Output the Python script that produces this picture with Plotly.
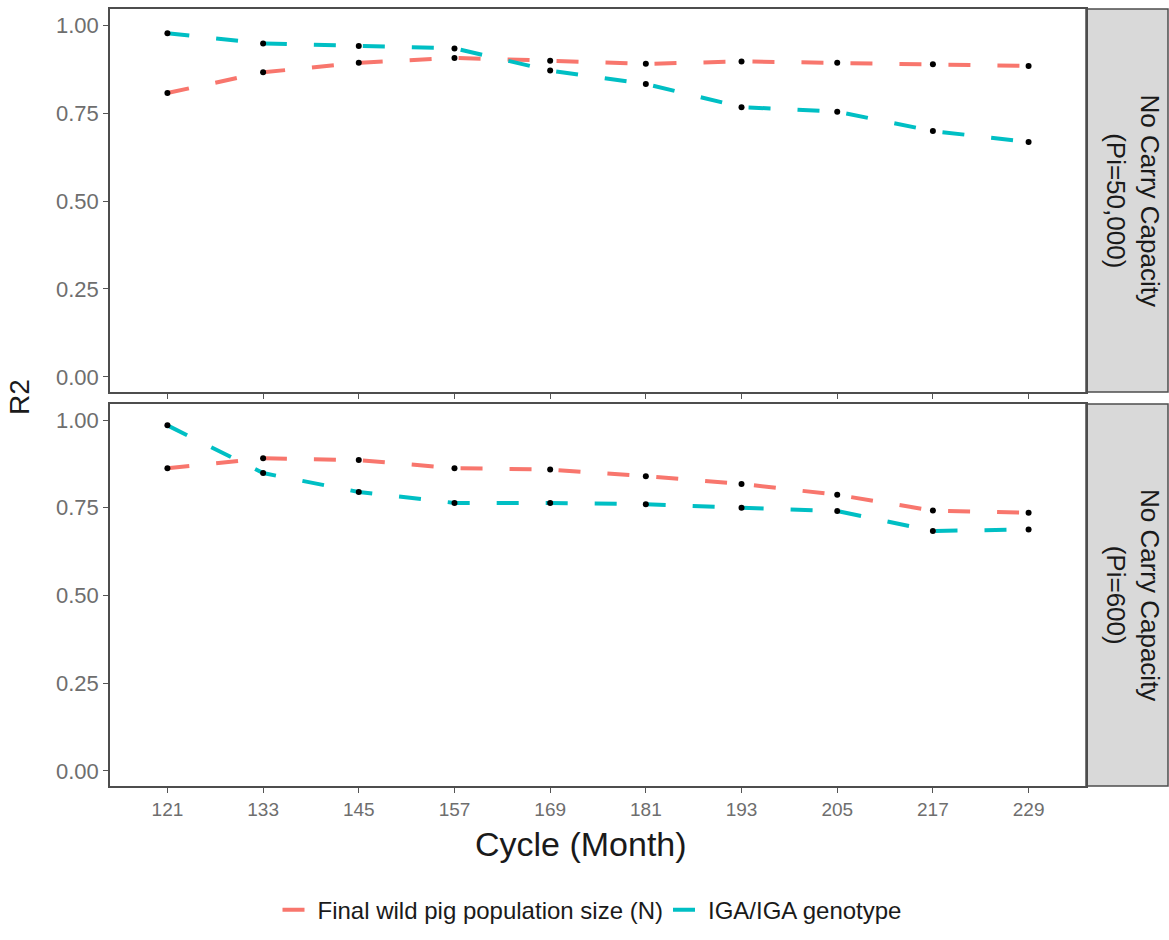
import plotly.graph_objects as go

cycles = [121, 133, 145, 157, 169, 181, 193, 205, 217, 229]
series_names = ["Final wild pig population size (N)", "IGA/IGA genotype"]
colors = ["#F8766D", "#00BFC4"]

# Panel 1: No Carry Capacity (Pi=50,000)
top_N = [0.807, 0.866, 0.893, 0.907, 0.899, 0.890, 0.897, 0.893, 0.889, 0.884]
top_IGA = [0.977, 0.948, 0.941, 0.934, 0.871, 0.833, 0.767, 0.754, 0.699, 0.668]
# Panel 2: No Carry Capacity (Pi=600)
bot_N = [0.863, 0.891, 0.886, 0.863, 0.859, 0.840, 0.818, 0.787, 0.742, 0.736]
bot_IGA = [0.985, 0.849, 0.795, 0.764, 0.764, 0.760, 0.750, 0.741, 0.684, 0.688]

strip_labels = ["No Carry Capacity<br>(Pi=50,000)", "No Carry Capacity<br>(Pi=600)"]
y_ticks = [0.0, 0.25, 0.5, 0.75, 1.0]
y_ticklabels = ["0.00", "0.25", "0.50", "0.75", "1.00"]

W, H = 1169, 940
ML, MR, MT, MB = 110, 83, 7, 150
PW = W - ML - MR
PH = H - MT - MB

def py(p):
    return (H - MB - p) / PH

fig = go.Figure()

panels = [(top_N, top_IGA, "x", "y"), (bot_N, bot_IGA, "x2", "y2")]
for i, (sN, sI, xa, ya) in enumerate(panels):
    for j, vals in enumerate([sN, sI]):
        fig.add_trace(go.Scatter(
            x=cycles, y=vals, xaxis=xa, yaxis=ya, mode="lines",
            line=dict(color=colors[j], width=4, dash="22px,27px"),
            name=series_names[j], showlegend=(i == 0), legendgroup=str(j),
            hoverinfo="skip"))
    for j, vals in enumerate([sN, sI]):
        fig.add_trace(go.Scatter(
            x=cycles, y=vals, xaxis=xa, yaxis=ya, mode="markers",
            marker=dict(color="black", size=6), showlegend=False,
            hoverinfo="skip"))

xr = [121 - 0.6 * 12, 229 + 0.6 * 12]
yr = [-0.043, 1.046]
axis_common = dict(showgrid=False, zeroline=False, showline=True, mirror=True,
                   linecolor="#4D4D4D", linewidth=1.5, ticks="outside",
                   ticklen=5, tickwidth=1.2, tickcolor="#555555")

fig.update_layout(
    width=W, height=H, margin=dict(l=ML, r=MR, t=MT, b=MB),
    paper_bgcolor="white", plot_bgcolor="white",
    font=dict(family="Liberation Sans, Arial, sans-serif", color="#4D4D4D"),
    xaxis=dict(domain=[0, 1], range=xr, anchor="y", showticklabels=False,
               tickvals=cycles, **axis_common),
    yaxis=dict(domain=[py(393), 1.0], range=yr, anchor="x",
               tickvals=y_ticks, ticktext=y_ticklabels,
               tickfont=dict(size=22, color="#6E6E6E"), **axis_common),
    xaxis2=dict(domain=[0, 1], range=xr, anchor="y2", matches="x",
                tickvals=cycles, ticktext=[str(c) for c in cycles],
                tickfont=dict(size=19, color="#6E6E6E"),
                **axis_common),
    yaxis2=dict(domain=[0, py(405)], range=yr, anchor="x2",
                tickvals=y_ticks, ticktext=y_ticklabels,
                tickfont=dict(size=22, color="#6E6E6E"), **axis_common),
    legend=dict(orientation="h", x=(592 - ML) / PW, xanchor="center",
                y=py(915), yanchor="middle",
                font=dict(size=24, color="#1A1A1A"),
                itemwidth=30, bgcolor="rgba(0,0,0,0)"),
    showlegend=True,
)

# Strips
strip_x0 = 1.0
strip_x1 = (1168 - ML) / PW
for k, (y0, y1) in enumerate([(py(393), 1.0), (0.0, py(405))]):
    fig.add_shape(type="rect", xref="paper", yref="paper",
                  x0=strip_x0, x1=strip_x1, y0=y0, y1=y1,
                  fillcolor="#D9D9D9", line=dict(color="#4D4D4D", width=1.5),
                  layer="below")
    fig.add_annotation(xref="paper", yref="paper",
                       x=(1133 - ML) / PW, y=(y0 + y1) / 2,
                       text=strip_labels[k], textangle=90, showarrow=False,
                       font=dict(size=26, color="#1A1A1A"),
                       xanchor="center", yanchor="middle")

fig.add_annotation(xref="paper", yref="paper", x=(581 - ML) / PW, y=py(848),
                   text="Cycle (Month)", showarrow=False,
                   font=dict(size=34, color="#1A1A1A"),
                   xanchor="center", yanchor="middle")
fig.add_annotation(xref="paper", yref="paper", x=(19 - ML) / PW, y=py(398),
                   text="R2", textangle=-90, showarrow=False,
                   font=dict(size=28, color="#1A1A1A"),
                   xanchor="center", yanchor="middle")

fig.write_html("out.html")
